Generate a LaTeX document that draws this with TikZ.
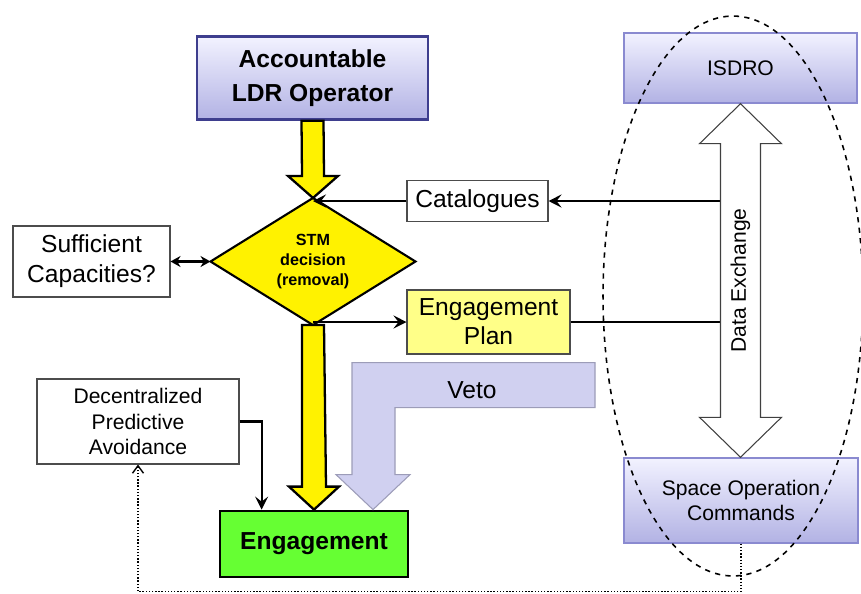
\documentclass[tikz,border=0pt]{standalone}
\usepackage{fontspec}
\setmainfont{Liberation Sans}
\usetikzlibrary{positioning,calc,shapes.geometric,arrows.meta}

\definecolor{lavtop}{HTML}{F2F2FF}
\definecolor{lavbot}{HTML}{B2B2E4}
\definecolor{lavline}{HTML}{3E3E8E}
\definecolor{isline}{HTML}{8A8AD0}
\definecolor{vetofill}{HTML}{D0D0F0}
\definecolor{vetoline}{HTML}{9C9CB8}
\definecolor{engfill}{HTML}{66FF33}
\definecolor{planfill}{HTML}{FFFF88}

\tikzset{
	plainbox/.style={shape=rectangle, draw=black!70, line width=0.6pt, fill=white, align=center, inner sep=0pt},
	lavbox/.style={shape=rectangle, top color=lavtop, bottom color=lavbot, align=center, inner sep=0pt},
	fatarrow/.style={fill=yellow, draw=black, line width=1.3pt, line join=miter},
	thinarrow/.style={line width=1.2pt, -{Stealth[length=2.6mm, width=2.6mm, inset=1mm]}}
}

\begin{document}
\begin{tikzpicture}[x=0.02cm, y=-0.02cm]
		\useasboundingbox (0, 0) rectangle (861, 593);

		\node[lavbox, draw=lavline, line width=1.3pt, minimum width=4.62cm, minimum height=1.66cm, font=\fontsize{14}{19.5}\selectfont\bfseries] (op) at (312.5, 78) {Accountable\\LDR Operator};
		\node[shape=diamond, fill=yellow, draw=black, line width=1.2pt, minimum width=4.1cm, minimum height=2.34cm, inner sep=0pt, outer sep=0pt, align=center, font=\fontsize{9.2}{11.3}\selectfont\bfseries] (dec) at (313, 261.5) {STM\\decision\\(removal)};
		\node[plainbox, minimum width=2.82cm, minimum height=0.82cm, font=\fontsize{14}{17}\selectfont] (cat) at (477.5, 201) {Catalogues};
		\node[plainbox, minimum width=3.14cm, minimum height=1.42cm, font=\fontsize{14}{17}\selectfont] (suf) at (91.5, 261.5) {Sufficient\\Capacities?};
		\node[plainbox, fill=planfill, minimum width=3.26cm, minimum height=1.28cm, font=\fontsize{14}{16.5}\selectfont] (plan) at (488.5, 322) {Engagement\\Plan};
		\node[plainbox, minimum width=4.04cm, minimum height=1.7cm, font=\fontsize{12}{14.7}\selectfont] (dpa) at (138, 421.5) {Decentralized\\Predictive\\Avoidance};
		\node[shape=rectangle, fill=engfill, draw=black, line width=1.6pt, minimum width=3.76cm, minimum height=1.32cm, inner sep=0pt, font=\fontsize{14}{17}\selectfont\bfseries] (eng) at (314, 544) {Engagement};
		\node[lavbox, draw=isline, line width=0.8pt, minimum width=4.66cm, minimum height=1.4cm, font=\fontsize{12}{14.7}\selectfont] (isdro) at (740.5, 68) {ISDRO};
		\node[lavbox, draw=isline, line width=0.8pt, minimum width=4.68cm, minimum height=1.7cm, font=\fontsize{12}{14.7}\selectfont] (soc) at (741, 500.5) {Space Operation\\Commands};

		\coordinate (cl) at ($(isdro.south)+(-20, 0)$);
		\draw[thinarrow] (cl |- cat.east) -- (cat.east);
		\draw[thinarrow] (cat.west) -- (cat.west -| dec.north);
		\draw[line width=1.2pt] (plan.east) -- (cl |- plan.east);
		\draw[thinarrow] (plan.west -| dec.south) -- (plan.west);
		\draw[line width=1.2pt, {Stealth[length=2mm, width=2.2mm]}-{Stealth[length=2mm, width=2.2mm]}] (suf.east) -- (dec.west);
		\draw[thinarrow] (dpa.east) -| ($(eng.north west)+(43, 0)$);
		\draw[densely dotted, line width=0.8pt, -{Straight Barb[length=1.5mm, width=2.2mm]}] (soc.south) -- ++(0, 48) -| (dpa.south);

		\filldraw[fatarrow] ($(op.south)+(-11, 0)$) -- ($(dec.north)+(-11, -22)$) -- ($(dec.north)+(-25, -22)$) -- (dec.north) -- ($(dec.north)+(25, -22)$) -- ($(dec.north)+(11, -22)$) -- ($(op.south)+(11, 0)$) -- cycle;
		\filldraw[fatarrow] ($(dec.south)+(-11, 0)$) -- ($(eng.north)+(-12, -23)$) -- ($(eng.north)+(-25, -23)$) -- (eng.north) -- ($(eng.north)+(25, -23)$) -- ($(eng.north)+(12, -23)$) -- ($(dec.south)+(11, 0)$) -- cycle;

		\coordinate (vt) at ($(eng.north)+(59, 0)$);
		\filldraw[fill=vetofill, draw=vetoline, line width=0.6pt] ($(vt)+(-21, -147)$) -- ($(vt)+(222, -147)$) -- ($(vt)+(222, -102)$) -- ($(vt)+(22, -102)$) -- ($(vt)+(22, -35)$) -- ($(vt)+(37, -35)$) -- (vt) -- ($(vt)+(-37, -35)$) -- ($(vt)+(-21, -35)$) -- cycle;
		\node[font=\fontsize{14}{17}\selectfont] (veto) at (472, 390) {Veto};

		\coordinate (dt) at (isdro.south);
		\coordinate (db) at (dt |- soc.north);
		\filldraw[fill=white, draw=black!75, line width=0.6pt] (dt) -- ($(dt)+(41, 40)$) -- ($(dt)+(20, 40)$) -- ($(db)+(20, -40)$) -- ($(db)+(41, -40)$) -- (db) -- ($(db)+(-41, -40)$) -- ($(db)+(-20, -40)$) -- ($(dt)+(-20, 40)$) -- ($(dt)+(-41, 40)$) -- cycle;
		\node[rotate=90, font=\fontsize{12}{14.7}\selectfont] (dx) at ($(dt)!0.5!(db)$) {Data Exchange};

		\draw[dashed, line width=0.9pt] (733, 296) ellipse [x radius=2.6cm, y radius=5.6cm];
	\end{tikzpicture}
\end{document}
